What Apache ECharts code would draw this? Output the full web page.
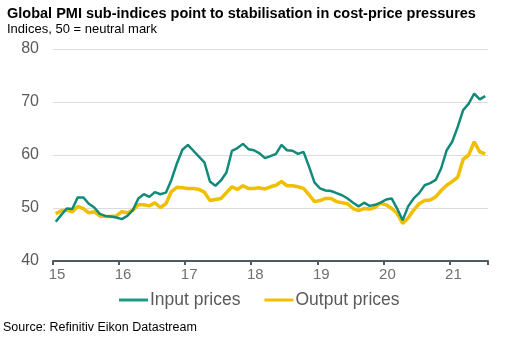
<!DOCTYPE html>
<html><head><meta charset="utf-8">
<script src="https://cdn.jsdelivr.net/npm/echarts@6/dist/echarts.min.js"></script>
<style>html,body{margin:0;padding:0;background:#fff}#c{width:513px;height:341px}</style>
</head><body><div id="c"></div>
<script>
const yearLabels = ['15','16','17','18','19','20','21'];
const inputPrices = [47.4,48.7,49.9,49.8,52.0,52.0,50.8,50.1,48.9,48.5,48.4,48.2,
 47.9,48.5,49.6,51.8,52.6,52.1,53.0,52.6,52.9,55.3,58.4,61.0,
 61.9,60.8,59.7,58.6,55.0,54.2,55.2,56.7,60.8,61.3,62.1,61.1,
 60.9,60.3,59.4,59.8,60.2,61.9,60.9,60.8,60.2,60.6,57.8,54.8,
 53.7,53.3,53.2,52.8,52.4,51.8,51.0,50.3,51.0,50.4,50.6,51.0,
 51.6,51.8,49.9,47.7,50.3,51.8,52.8,54.3,54.7,55.3,57.5,60.9,
 62.5,65.3,68.5,69.7,71.6,70.5,71.1];
const outputPrices = [48.9,49.5,49.6,49.3,50.3,49.9,49.1,49.3,48.5,48.4,48.4,48.5,
 49.3,49.1,49.6,50.6,50.6,50.4,51.0,50.1,50.8,53.1,53.9,53.8,
 53.7,53.7,53.5,53.0,51.4,51.6,51.8,52.9,54.0,53.5,54.2,53.7,
 53.7,53.8,53.6,54.0,54.3,55.0,54.2,54.2,54.0,53.7,52.5,51.2,
 51.4,51.8,51.8,51.2,51.0,50.8,49.9,49.5,49.9,49.8,50.1,50.9,
 50.6,49.9,49.0,47.1,48.1,49.6,50.8,51.4,51.5,52.1,53.3,54.3,
 55.0,55.8,59.2,60.0,62.5,60.6,60.2];

const toPts = arr => arr.map((v,i)=>[i+0.5, v]);
const chart = echarts.init(document.getElementById('c'), null, {renderer:'canvas'});
const FONT = '"Liberation Sans", Arial, sans-serif';
chart.setOption({
  animation:false,
  backgroundColor:'#fff',
  title:{
    text:'Global PMI sub-indices point to stabilisation in cost-price pressures',
    subtext:'Indices, 50 = neutral mark',
    left:2, top:1, itemGap:2,
    textStyle:{fontFamily:FONT,fontWeight:'bold',fontSize:14.5,color:'#000'},
    subtextStyle:{fontFamily:FONT,fontSize:13,color:'#000'}
  },
  graphic:[{type:'text', left:3, top:321,
    style:{text:'Source: Refinitiv Eikon Datastream', font:'12.5px '+FONT, fill:'#000'}}],
  legend:{
    left:114, top:286,
    icon:'rect', itemWidth:29, itemHeight:3, itemGap:24,
    textStyle:{fontFamily:FONT,fontSize:17.5,color:'#5a5a5a',padding:[0,0,0,-3]},
    data:['Input prices','Output prices']
  },
  grid:{left:53,right:25,top:49,bottom:80},
  xAxis:{
    type:'value', min:0, max:79, interval:12,
    axisLine:{show:true,lineStyle:{color:'#4f5b63',width:2}},
    axisTick:{show:true,length:4,lineStyle:{color:'#4f5b63',width:2}},
    splitLine:{show:false},
    axisLabel:{fontFamily:FONT,fontSize:15,color:'#707070',margin:6,padding:[0,0,0,8],
      formatter:v=>{const i=v/12; return (v%12===0 && i<yearLabels.length)?yearLabels[i]:'';}}
  },
  yAxis:{
    type:'value', min:40, max:80, interval:10,
    axisLine:{show:false}, axisTick:{show:false},
    splitLine:{lineStyle:{color:'#dcdcdc',width:1}},
    axisLabel:{fontFamily:FONT,fontSize:16,color:'#5a5a5a',margin:14}
  },
  series:[
    {name:'Input prices',type:'line',data:toPts(inputPrices),showSymbol:false,
     lineStyle:{color:'#118a7a',width:2.5},itemStyle:{color:'#1f9a88'},z:3},
    {name:'Output prices',type:'line',data:toPts(outputPrices),showSymbol:false,
     lineStyle:{color:'#f0c000',width:3.5},itemStyle:{color:'#f0c000'},z:2}
  ]
});
</script></body></html>
